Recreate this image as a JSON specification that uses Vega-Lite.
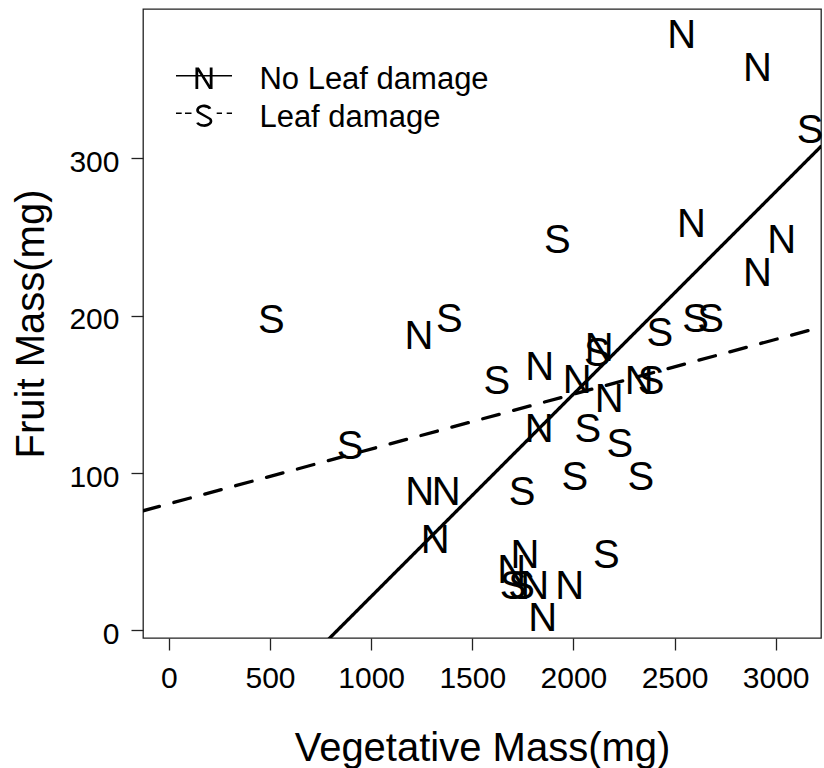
{
  "$schema": "https://vega.github.io/schema/vega-lite/v6.json",
  "width": 678,
  "height": 629,
  "autosize": {"type": "none"},
  "padding": {"left": 143, "top": 9, "right": 3, "bottom": 130},
  "background": "white",
  "config": {
    "view": {"stroke": "#222", "strokeWidth": 1.3},
    "font": "Liberation Sans",
    "axis": {
      "grid": false,
      "domain": false,
      "tickSize": 12,
      "tickColor": "#222",
      "tickWidth": 1.3,
      "labelFont": "Liberation Sans",
      "labelFontSize": 30,
      "labelColor": "black",
      "labelFlush": false,
      "labelOverlap": false,
      "titleFont": "Liberation Sans",
      "titleFontSize": 40,
      "titleFontWeight": "normal",
      "titleColor": "black"
    }
  },
  "datasets": {
    "points": [
      {"veg": 2535, "fruit": 379, "g": "N"},
      {"veg": 2910, "fruit": 358, "g": "N"},
      {"veg": 2584, "fruit": 259, "g": "N"},
      {"veg": 3030, "fruit": 249, "g": "N"},
      {"veg": 2910, "fruit": 228, "g": "N"},
      {"veg": 1236, "fruit": 188, "g": "N"},
      {"veg": 1833, "fruit": 168, "g": "N"},
      {"veg": 2019, "fruit": 160, "g": "N"},
      {"veg": 2177, "fruit": 148, "g": "N"},
      {"veg": 2325, "fruit": 159, "g": "N"},
      {"veg": 1831, "fruit": 129, "g": "N"},
      {"veg": 1240, "fruit": 89, "g": "N"},
      {"veg": 1371, "fruit": 89, "g": "N"},
      {"veg": 1316, "fruit": 58, "g": "N"},
      {"veg": 1760, "fruit": 49, "g": "N"},
      {"veg": 1695, "fruit": 39, "g": "N"},
      {"veg": 1809, "fruit": 29, "g": "N"},
      {"veg": 1982, "fruit": 29, "g": "N"},
      {"veg": 1848, "fruit": 9, "g": "N"},
      {"veg": 2127, "fruit": 180, "g": "N"},
      {"veg": 507, "fruit": 198, "g": "S"},
      {"veg": 1386, "fruit": 199, "g": "S"},
      {"veg": 896, "fruit": 118, "g": "S"},
      {"veg": 1920, "fruit": 249, "g": "S"},
      {"veg": 3170, "fruit": 319, "g": "S"},
      {"veg": 2604, "fruit": 199, "g": "S"},
      {"veg": 2678, "fruit": 199, "g": "S"},
      {"veg": 2427, "fruit": 190, "g": "S"},
      {"veg": 1621, "fruit": 159, "g": "S"},
      {"veg": 2384, "fruit": 159, "g": "S"},
      {"veg": 2071, "fruit": 129, "g": "S"},
      {"veg": 2229, "fruit": 119, "g": "S"},
      {"veg": 2007, "fruit": 98, "g": "S"},
      {"veg": 2333, "fruit": 98, "g": "S"},
      {"veg": 1746, "fruit": 89, "g": "S"},
      {"veg": 2163, "fruit": 49, "g": "S"},
      {"veg": 1702, "fruit": 29, "g": "S"},
      {"veg": 1744, "fruit": 29, "g": "S"},
      {"veg": 2118, "fruit": 177, "g": "S"}
    ],
    "fits": [
      {"veg": -128, "fruit": -123.5, "fit": "no damage fit"},
      {"veg": 3224, "fruit": 307.5, "fit": "no damage fit"},
      {"veg": -128, "fruit": 76.0, "fit": "leaf damage fit"},
      {"veg": 3224, "fruit": 192.7, "fit": "leaf damage fit"}
    ]
  },
  "encoding": {
    "x": {
      "field": "veg",
      "type": "quantitative",
      "scale": {"domain": [-128, 3224], "nice": false, "zero": false},
      "axis": {
        "values": [0, 500, 1000, 1500, 2000, 2500, 3000],
        "format": "d",
        "title": "Vegetative Mass(mg)",
        "labelPadding": 13.5,
        "titleX": 339,
        "titleY": 122,
        "titleBaseline": "alphabetic",
        "titleAlign": "center"
      }
    },
    "y": {
      "field": "fruit",
      "type": "quantitative",
      "scale": {"domain": [-4.8, 394.8], "nice": false, "zero": false},
      "axis": {
        "values": [0, 100, 200, 300],
        "format": "d",
        "title": "Fruit Mass(mg)",
        "labelPadding": 12,
        "labelOffset": 4,
        "titleX": -100,
        "titleY": 314.5,
        "titleAngle": -90,
        "titleBaseline": "alphabetic",
        "titleAlign": "center"
      }
    }
  },
  "layer": [
    {
      "data": {"name": "fits"},
      "mark": {"type": "line", "clip": true, "color": "black", "strokeWidth": 3.3, "strokeCap": "round"},
      "encoding": {
        "strokeDash": {
          "field": "fit",
          "type": "nominal",
          "scale": {"domain": ["no damage fit", "leaf damage fit"], "range": [[1, 0], [17, 15]]},
          "legend": null
        }
      }
    },
    {
      "data": {"name": "points"},
      "mark": {"type": "text", "font": "Liberation Sans", "fontSize": 40, "color": "black", "baseline": "middle", "align": "center", "dy": 2.3},
      "encoding": {"text": {"field": "g", "type": "nominal"}}
    },
    {
      "data": {"name": "points"},
      "transform": [{"filter": "false"}],
      "mark": {"type": "point", "filled": true, "color": "black"},
      "encoding": {
        "shape": {
          "field": "g",
          "type": "nominal",
          "scale": {
            "domain": ["N", "S"],
            "range": [
              "M-1.474,-0.268H1.474V-0.188H-1.474Z M-0.45,-0.658L-0.27,-0.658L0.303,0.258L0.303,-0.658L0.45,-0.658L0.45,0.474L0.27,0.474L-0.303,-0.442L-0.303,0.474L-0.45,0.474Z",
              "M-1.474,-0.268V-0.188H-1.174V-0.268Z M-1.0,-0.268V-0.188H-0.658V-0.268Z M0.668,-0.268V-0.188H0.947V-0.268Z M1.195,-0.268V-0.188H1.474V-0.268Z M0.386,-0.484A0.41,0.292 0 1 0 -0.355,-0.241L0.258,0.106A0.298,0.165 0 1 1 -0.28,0.244L-0.413,0.293A0.439,0.307 0 1 0 0.38,0.035L-0.233,-0.312A0.268,0.15 0 1 1 0.253,-0.437Z"
            ]
          },
          "legend": {
            "orient": "none",
            "legendX": 42,
            "legendY": 52,
            "title": null,
            "padding": 0,
            "rowPadding": 3.5,
            "symbolSize": 1444,
            "symbolStrokeWidth": 0,
            "symbolFillColor": "black",
            "symbolStrokeColor": "black",
            "symbolOpacity": 1,
            "labelFont": "Liberation Sans",
            "labelFontSize": 31,
            "labelColor": "black",
            "labelOffset": 36.4,
            "labelLimit": 400,
            "labelExpr": "datum.label == 'N' ? 'No Leaf damage' : 'Leaf damage'"
          }
        }
      }
    }
  ]
}
